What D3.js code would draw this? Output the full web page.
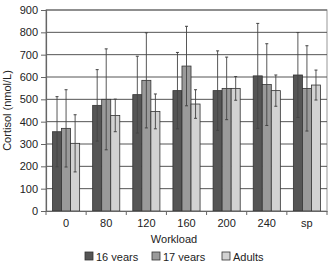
<!DOCTYPE html>
<html><head><meta charset="utf-8">
<script src="https://cdn.jsdelivr.net/npm/d3@7"></script>
<style>body{margin:0;background:#fff}svg{display:block}text{font-family:"Liberation Sans",Arial,sans-serif;fill:#222}</style>
</head><body><svg id="c" width="332" height="261"></svg>
<script>
const categories = ["0","80","120","160","200","240","sp"];
const seriesNames = ["16 years","17 years","Adults"];
const means16 = [355,473,521,539,539,605,609];
const means17 = [370,500,585,649,549,566,549];
const meansAd = [303,428,446,479,549,539,564];
const err16 = [157,160,172,171,178,235,190];
const err17 = [173,226,213,178,140,183,191];
const errAd = [128,73,78,64,53,70,67];
const yTicks = [0,100,200,300,400,500,600,700,800,900];
const colors = ["#555555","#9a9a9a","#d2d2d2"];

const means = [means16, means17, meansAd];
const errs = [err16, err17, errAd];
const svg = d3.select("#c");
const L = 46, R = 327, T = 10, B = 211;
const x = d3.scaleBand().domain(categories).range([L, R]).paddingInner(0).paddingOuter(0);
const xs = d3.scaleBand().domain(seriesNames).range([0, x.bandwidth()]).paddingInner(0).paddingOuter(0.72);
const y = d3.scaleLinear().domain([0,900]).range([B, T]);

// border
svg.append("rect").attr("x", L).attr("y", T).attr("width", R-L).attr("height", B-T)
  .attr("fill","none").attr("stroke","#a8a8a8").attr("stroke-width",1.2);
// gridlines
svg.append("g").selectAll("line").data(yTicks.filter(d=>d>0)).join("line")
  .attr("x1", L).attr("x2", R).attr("y1", d=>y(d)).attr("y2", d=>y(d))
  .attr("stroke","#555").attr("stroke-width",1);

// bars
const gs = svg.append("g").selectAll("g").data(categories).join("g")
  .attr("transform", d=>`translate(${x(d)},0)`);
seriesNames.forEach((s, si) => {
  gs.append("rect")
    .attr("x", xs(s)).attr("width", xs.bandwidth())
    .attr("y", (d,i)=>y(means[si][i])).attr("height",(d,i)=>B - y(means[si][i]))
    .attr("fill", colors[si]).attr("stroke","#333").attr("stroke-width",0.8);
});
// error bars
seriesNames.forEach((s, si) => {
  const cx = xs(s) + xs.bandwidth()/2;
  gs.append("line").attr("x1",cx).attr("x2",cx)
    .attr("y1",(d,i)=>y(means[si][i]+errs[si][i])).attr("y2",(d,i)=>y(means[si][i]-errs[si][i]))
    .attr("stroke","#444").attr("stroke-width",0.9);
  [1,-1].forEach(sg=>{
    gs.append("line").attr("x1",cx-1.5).attr("x2",cx+1.5)
      .attr("y1",(d,i)=>y(means[si][i]+sg*errs[si][i])).attr("y2",(d,i)=>y(means[si][i]+sg*errs[si][i]))
      .attr("stroke","#444").attr("stroke-width",1);
  });
});

// y axis
const ya = svg.append("g").attr("transform",`translate(${L},0)`)
  .call(d3.axisLeft(y).tickValues(yTicks).tickSize(5).tickPadding(3));
ya.select(".domain").attr("stroke","#666").attr("stroke-width",1.2);
ya.selectAll(".tick line").attr("stroke","#666");
ya.selectAll("text").attr("font-size","11px").attr("fill","#222").style("font-family","Liberation Sans, Arial, sans-serif");

// x axis
const xa = svg.append("g").attr("transform",`translate(0,${B})`)
  .call(d3.axisBottom(x).tickSize(0).tickPadding(8));
xa.select(".domain").attr("stroke","#666").attr("stroke-width",1.2);
xa.selectAll("text").attr("font-size","11px").attr("fill","#222").style("font-family","Liberation Sans, Arial, sans-serif");
const bounds = categories.map(c=>x(c)).concat([R]);
svg.append("g").selectAll("line").data(bounds).join("line")
  .attr("x1",d=>d).attr("x2",d=>d).attr("y1",B).attr("y2",B+4).attr("stroke","#666");

// titles
svg.append("text").attr("x",174).attr("y",243).attr("text-anchor","middle").attr("font-size","11px").text("Workload");
svg.append("text").attr("transform",`translate(11,${(T+B)/2}) rotate(-90)`).attr("text-anchor","middle")
  .attr("font-size","11px").text("Cortisol (nmol/L)");

// legend
const legX = [85,152,222];
const lg = svg.append("g").selectAll("g").data(seriesNames).join("g")
  .attr("transform",(d,i)=>`translate(${legX[i]},252)`);
lg.append("rect").attr("width",8).attr("height",8).attr("fill",(d,i)=>colors[i]).attr("stroke","#333").attr("stroke-width",0.8);
lg.append("text").attr("x",11).attr("y",8.5).attr("font-size","11px").text(d=>d);
</script></body></html>
